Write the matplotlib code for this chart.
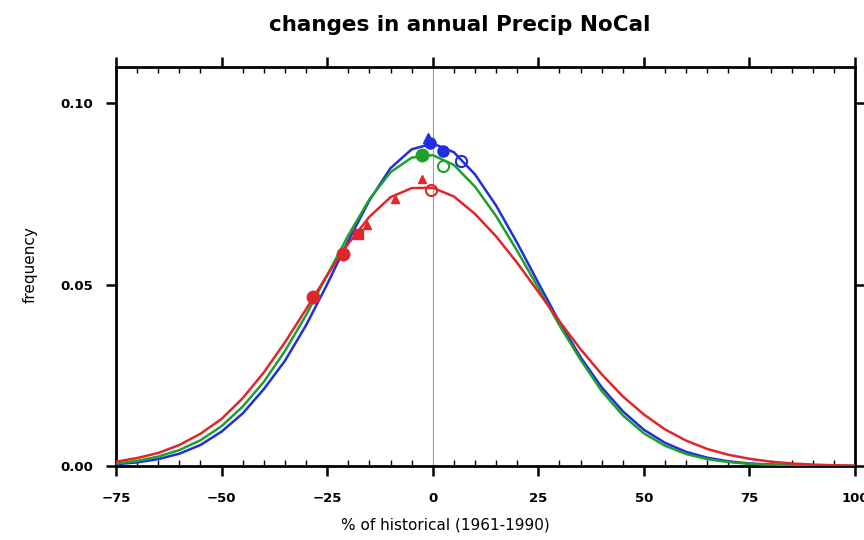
#!/usr/bin/env python3

import matplotlib
matplotlib.use("Agg")
import matplotlib.pyplot as plt
from matplotlib.ticker import MultipleLocator

# bin centres (% change of annual precip vs 1961-1990)
pct = [-75, -70, -65, -60, -55, -50, -45, -40, -35, -30, -25, -20, -15, -10, -5,
       0, 5, 10, 15, 20, 25, 30, 35, 40, 45, 50, 55, 60, 65, 70, 75, 80, 85, 90, 95, 100]

freq_blue = [0.0005, 0.0010, 0.0019, 0.0034, 0.0058, 0.0095, 0.0145, 0.0212, 0.0290, 0.0388,
             0.0501, 0.0621, 0.0732, 0.0821, 0.0873, 0.0889, 0.0865, 0.0804, 0.0718, 0.0615,
             0.0505, 0.0397, 0.0300, 0.0217, 0.0151, 0.0100, 0.0064, 0.0039, 0.0023, 0.0013,
             0.0007, 0.0004, 0.0002, 0.0001, 0.0001, 0.0000]
freq_green = [0.0007, 0.0014, 0.0026, 0.0044, 0.0071, 0.0110, 0.0164, 0.0232, 0.0317, 0.0416,
              0.0526, 0.0636, 0.0735, 0.0810, 0.0850, 0.0857, 0.0830, 0.0770, 0.0689, 0.0593,
              0.0491, 0.0388, 0.0293, 0.0207, 0.0140, 0.0090, 0.0056, 0.0033, 0.0019, 0.0011,
              0.0006, 0.0004, 0.0002, 0.0001, 0.0001, 0.0000]
freq_red = [0.0012, 0.0022, 0.0036, 0.0058, 0.0089, 0.0130, 0.0187, 0.0258, 0.0341, 0.0432,
            0.0526, 0.0613, 0.0687, 0.0741, 0.0766, 0.0767, 0.0743, 0.0695, 0.0633, 0.0560,
            0.0480, 0.0399, 0.0322, 0.0253, 0.0192, 0.0142, 0.0101, 0.0070, 0.0047, 0.0031,
            0.0020, 0.0012, 0.0007, 0.0004, 0.0002, 0.0001]

# marker positions (x, y)
blue_filled_x = [-0.6, 2.4]
blue_filled_y = [0.0890, 0.0867]
blue_tri_x = [-1.1]
blue_tri_y = [0.0905]
blue_open_x = [6.7]
blue_open_y = [0.0842]

green_filled_x = [-2.5]
green_filled_y = [0.0857]
green_open_x = [2.5]
green_open_y = [0.0828]

red_filled_x = [-28.4, -21.2]
red_filled_y = [0.0467, 0.0585]
red_sq_x = [-17.8]
red_sq_y = [0.0640]
red_tri_x = [-15.5, -9.0, -2.5]
red_tri_y = [0.0665, 0.0735, 0.0790]
red_open_x = [-0.5]
red_open_y = [0.0760]

BLUE = "#1f2fe0"
GREEN = "#1fa02a"
RED = "#e0262b"

plt.rcParams["font.family"] = ["DejaVu Sans"]

fig = plt.figure(figsize=(8.64, 5.4), dpi=100)
ax = fig.add_axes([0.1343, 0.137, 0.8553, 0.739])

ax.axvline(0, color="#a0a0a0", lw=0.8, zorder=1)

for y, c in [(freq_blue, BLUE), (freq_green, GREEN), (freq_red, RED)]:
    ax.plot(pct, y, color=c, lw=1.8, zorder=3, solid_joinstyle="round")

ax.plot(red_filled_x, red_filled_y, "o", color=RED, ms=9, zorder=4)
ax.plot(red_sq_x, red_sq_y, "s", color=RED, ms=7, zorder=4)
ax.plot(red_tri_x, red_tri_y, "^", color=RED, ms=6, zorder=4)
ax.plot(red_open_x, red_open_y, "o", mfc="none", mec=RED, mew=1.5, ms=8, zorder=4)

ax.plot(green_filled_x, green_filled_y, "o", color=GREEN, ms=9, zorder=4)
ax.plot(green_open_x, green_open_y, "o", mfc="none", mec=GREEN, mew=1.5, ms=8, zorder=4)

ax.plot(blue_filled_x, blue_filled_y, "o", color=BLUE, ms=8, zorder=5)
ax.plot(blue_tri_x, blue_tri_y, "^", color=BLUE, ms=7, zorder=5)
ax.plot(blue_open_x, blue_open_y, "o", mfc="none", mec=BLUE, mew=1.5, ms=8, zorder=5)

ax.set_xlim(-75, 100)
ax.set_ylim(0, 0.11)
ax.set_xticks([-75, -50, -25, 0, 25, 50, 75, 100])
ax.set_yticks([0.0, 0.05, 0.10])
ax.set_yticklabels(["0.00", "0.05", "0.10"])
ax.xaxis.set_minor_locator(MultipleLocator(5))

ax.tick_params(which="major", direction="out", length=7.5, width=1.8,
               top=True, right=True, labelsize=9.5)
ax.tick_params(axis="x", which="major", pad=11)
ax.tick_params(axis="y", which="major", pad=9)
ax.tick_params(which="minor", direction="in", length=4, width=1,
               top=True, right=False, left=False)
for lab in ax.get_xticklabels() + ax.get_yticklabels():
    lab.set_fontweight("bold")
for s in ax.spines.values():
    s.set_linewidth(2)

fig.text(460 / 864, 1 - 25 / 540, "changes in annual Precip NoCal",
         fontsize=15.5, fontweight="bold", ha="center", va="center")
fig.text(445 / 864, 1 - 525 / 540, "% of historical (1961-1990)",
         fontsize=11, ha="center", va="center")
fig.text(30 / 864, 1 - 265 / 540, "frequency", fontsize=11,
         rotation=90, ha="center", va="center")

fig.savefig("out.png", dpi=100)
